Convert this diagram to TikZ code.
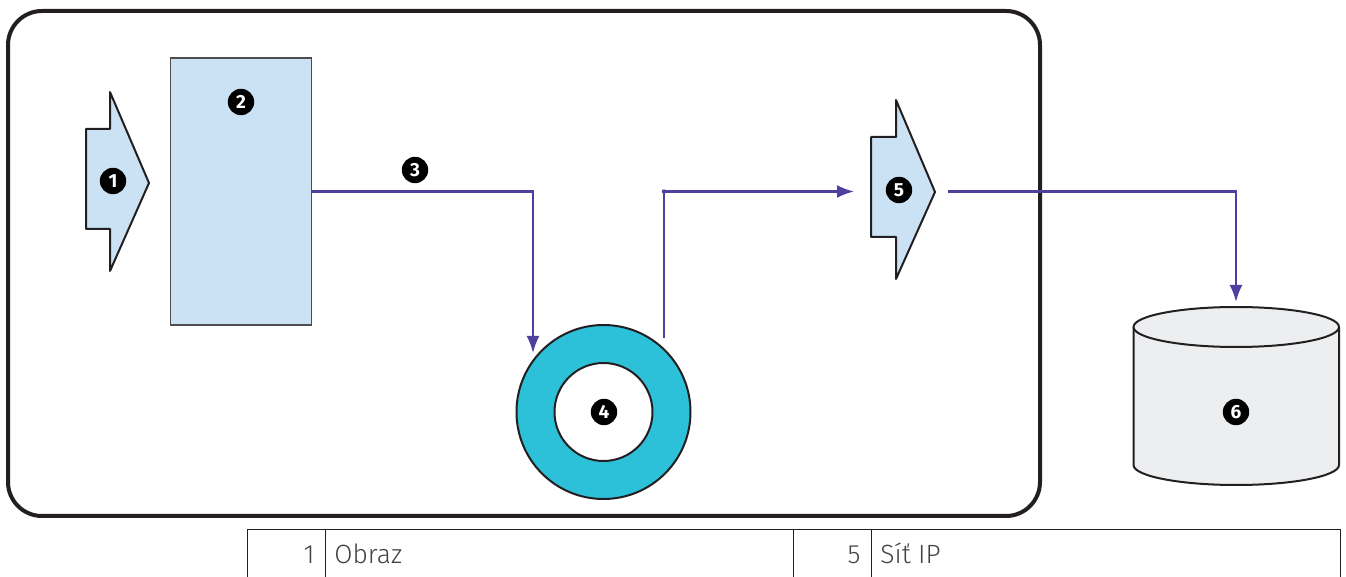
\documentclass[tikz,border=0pt]{standalone}
\usepackage{fontspec}
\setmainfont{Fira Sans}
\newfontfamily\tablefont{Fira Sans Light}
\usetikzlibrary{arrows.meta}
\definecolor{flow}{HTML}{4F3F9F}
\definecolor{paleblue}{HTML}{CBE2F5}
\definecolor{ringcyan}{HTML}{2DC0D9}
\definecolor{palegrey}{HTML}{EDEEF0}
\definecolor{ink}{HTML}{231F20}
\tikzset{
  x=0.5pt,y=-0.5pt,
  badge/.style={circle,fill=black,text=white,inner sep=0pt,minimum size=13.2pt,font=\bfseries\fontsize{9.5}{10}\selectfont},
  outline/.style={draw=ink,line width=1pt,line join=round},
  thinline/.style={draw=ink!80!white,line width=0.7pt},
  flowline/.style={draw=flow,line width=1.1pt},
  flowarrow/.style={flowline,-{Latex[length=8.5pt,width=6.5pt]}},
  tablerule/.style={draw=ink,line width=0.5pt},
  celltext/.style={inner sep=0pt,font=\tablefont\fontsize{13.2}{15}\selectfont,text=ink!85!white,anchor=base},
}
\begin{document}
\begin{tikzpicture}
\useasboundingbox (0,0) rectangle (1346,577);
% enclosure
\draw[draw=ink,line width=2pt,rounded corners=17pt] (8,11) rectangle (1040,516);
% input arrow
\draw[outline,fill=paleblue] (86,129) -- (110,129) -- (110,92) -- (149,183) -- (110,271) -- (110,229) -- (86,229) -- cycle;
% encoder box
\node[thinline,fill=paleblue,minimum width=70.5pt,minimum height=133.5pt,inner sep=0pt,outer sep=0pt] (box) at (240.75,191.5) {};
% ring
\node[draw=ink,line width=1pt,fill=ringcyan,circle,minimum size=87pt,inner sep=0pt,outer sep=0pt] (ring) at (603.5,412) {};
\node[draw=ink,line width=1pt,fill=white,circle,minimum size=49pt,inner sep=0pt,outer sep=0pt] (hole) at (603.5,412) {};
% output arrow
\draw[outline,fill=paleblue] (871,137) -- (896,137) -- (896,100) -- (935,192) -- (896,279) -- (896,237) -- (871,237) -- cycle;
% storage cylinder
\draw[outline,fill=palegrey] (1133.5,327) -- (1133.5,465) arc[start angle=180,end angle=360,x radius=102.75,y radius=-20] -- (1339,327);
\draw[outline,fill=palegrey] (1236.25,327) ellipse[x radius=102.75,y radius=20];
% coordinates
\coordinate (c3) at (533,191.5);
\coordinate (ringin) at (533,353);
\coordinate (ringout) at (664,338);
\coordinate (c4) at (664,191.5);
\coordinate (in5) at (854,191.5);
\coordinate (out5) at (948,191.5);
\coordinate (c5) at (1236,191.5);
\coordinate (in6) at (1236,302);
% connectors
\draw[flowarrow] (box.east) -- (c3) -- (ringin);
\draw[flowarrow] (ringout) -- (c4) -- (in5);
\fill[flow] (c4) circle[radius=2.2];
\draw[flowarrow] (out5) -- (c5) -- (in6);
% badges
\node[badge] (b1) at (113,181) {1};
\node[badge] (b2) at (241,102) {2};
\node[badge] (b3) at (415,170) {3};
\node[badge] (b4) at (604,412) {4};
\node[badge] (b5) at (899,190) {5};
\node[badge] (b6) at (1236,412) {6};
% table
\coordinate (tl) at (247,529.5);
\coordinate (tr) at (1340,529.5);
\draw[tablerule] (tl) -- (tr);
\draw[tablerule] (247,529) -- (247,577);
\draw[tablerule] (325,529) -- (325,577);
\draw[tablerule] (793,529) -- (793,577);
\draw[tablerule] (871,529) -- (871,577);
\draw[tablerule] (1340,529) -- (1340,577);
\node[celltext,anchor=base east] (n1) at (315,564) {1};
\node[celltext,anchor=base west] (t1) at (334,564) {Obraz};
\node[celltext,anchor=base east] (n5) at (861,564) {5};
\node[celltext,anchor=base west] (t5) at (880,564) {Síť IP};
\end{tikzpicture}
\end{document}
